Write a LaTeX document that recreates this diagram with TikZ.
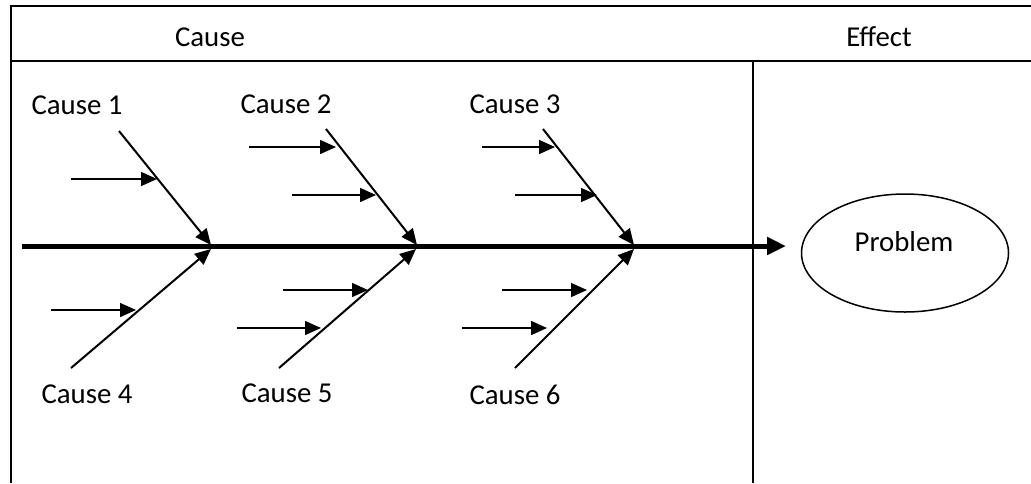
\documentclass[tikz,border=0pt]{standalone}
\usepackage{fontspec}
\setmainfont{Carlito}
\usetikzlibrary{arrows.meta,shapes.geometric}

\begin{document}
\begin{tikzpicture}[x=0.5pt,y=0.5pt]
                \tikzstyle{every node}+=[inner sep=0pt, font=\fontsize{14.4}{17}\selectfont]
                \tikzstyle{frame}=[black, line width=1pt]
                \tikzstyle{spine}=[black, line width=2.5pt, -{Triangle[length=9.5pt,width=8.5pt]}]
                \tikzstyle{bone}=[black, line width=1pt, -{Triangle[length=8pt,width=7pt]}]
                \tikzstyle{twig}=[black, line width=0.75pt, -{Triangle[length=8pt,width=7pt]}]
                \tikzstyle{label}=[anchor=base]
                \useasboundingbox (0,0) rectangle (1031,-483);
                % table
                \coordinate (tl) at (11,-6);
                \coordinate (tr) at (1031,-6);
                \coordinate (hl) at (11,-61);
                \coordinate (hr) at (1031,-61);
                \coordinate (hm) at (753,-61);
                \coordinate (bl) at (11,-483);
                \coordinate (bm) at (753,-483);
                \draw [frame] (tr) -- (tl) -- (bl);
                \draw [frame] (hl) -- (hr);
                \draw [frame] (hm) -- (bm);
                \node [label] (causehead) at (210,-46) {Cause};
                \node [label] (effecthead) at (879,-46) {Effect};
                % spine and effect
                \coordinate (tail) at (22,-246);
                \coordinate (head) at (786,-246);
                \draw [spine] (tail) -- (head);
                \node [draw, black, line width=0.75pt, ellipse, minimum width=103.5pt, minimum height=59pt] (problem) at (905,-253) {};
                \node [label] (problemtext) at (904,-251) {Problem};
                % upper bones
                \coordinate (b1s) at (119,-131);
                \coordinate (b1e) at (211,-245);
                \coordinate (b2s) at (326,-129);
                \coordinate (b2e) at (417,-245);
                \coordinate (b3s) at (543,-129);
                \coordinate (b3e) at (634,-245);
                \draw [bone] (b1s) -- (b1e);
                \draw [bone] (b2s) -- (b2e);
                \draw [bone] (b3s) -- (b3e);
                \node [label] (cause1) at (77,-114) {Cause 1};
                \node [label] (cause2) at (286,-113) {Cause 2};
                \node [label] (cause3) at (515,-113) {Cause 3};
                % lower bones
                \coordinate (b4s) at (71,-368);
                \coordinate (b4e) at (211,-249);
                \coordinate (b5s) at (279,-368);
                \coordinate (b5e) at (416,-249);
                \coordinate (b6s) at (515,-368);
                \coordinate (b6e) at (634,-249);
                \draw [bone] (b4s) -- (b4e);
                \draw [bone] (b5s) -- (b5e);
                \draw [bone] (b6s) -- (b6e);
                \node [label] (cause4) at (87,-403) {Cause 4};
                \node [label] (cause5) at (287,-402) {Cause 5};
                \node [label] (cause6) at (515,-404) {Cause 6};
                % twigs
                \coordinate (t1s) at (71,-179);
                \coordinate (t1e) at (157,-179);
                \coordinate (t2s) at (249,-147);
                \coordinate (t2e) at (336,-147);
                \coordinate (t3s) at (292,-195);
                \coordinate (t3e) at (376,-195);
                \coordinate (t4s) at (482,-147);
                \coordinate (t4e) at (555,-147);
                \coordinate (t5s) at (515,-195);
                \coordinate (t5e) at (597,-195);
                \coordinate (t6s) at (51,-310);
                \coordinate (t6e) at (136,-310);
                \coordinate (t7s) at (283,-290);
                \coordinate (t7e) at (368,-290);
                \coordinate (t8s) at (237,-328);
                \coordinate (t8e) at (321,-328);
                \coordinate (t9s) at (502,-290);
                \coordinate (t9e) at (587,-290);
                \coordinate (t10s) at (462,-328);
                \coordinate (t10e) at (547,-328);
                \draw [twig] (t1s) -- (t1e);
                \draw [twig] (t2s) -- (t2e);
                \draw [twig] (t3s) -- (t3e);
                \draw [twig] (t4s) -- (t4e);
                \draw [twig] (t5s) -- (t5e);
                \draw [twig] (t6s) -- (t6e);
                \draw [twig] (t7s) -- (t7e);
                \draw [twig] (t8s) -- (t8e);
                \draw [twig] (t9s) -- (t9e);
                \draw [twig] (t10s) -- (t10e);
            \end{tikzpicture}
\end{document}
